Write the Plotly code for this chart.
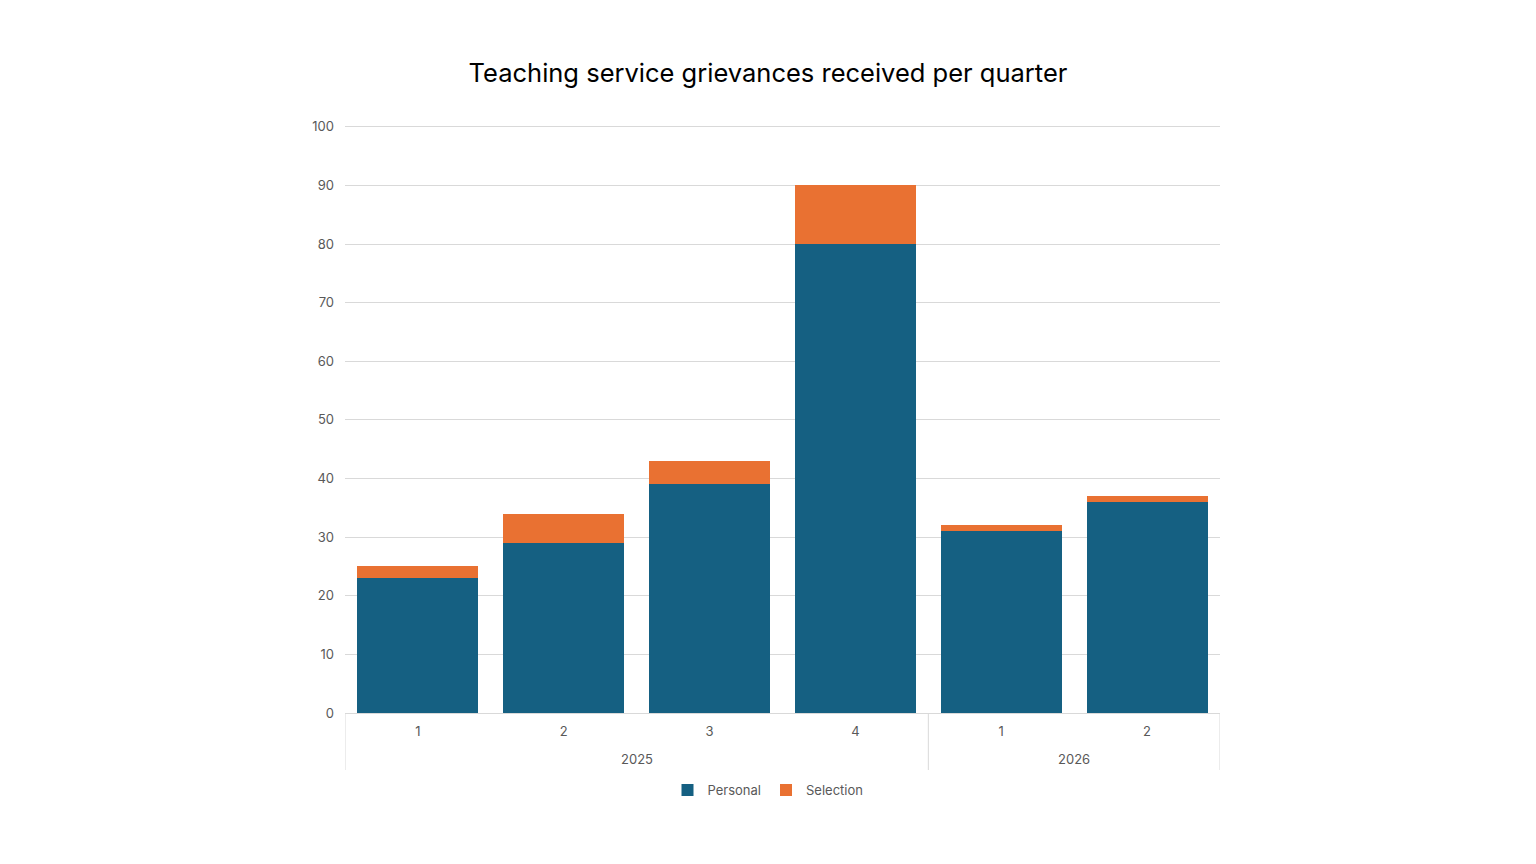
import plotly.graph_objects as go

years = ["2025", "2025", "2025", "2025", "2026", "2026"]
quarters = ["1", "2", "3", "4", "1", "2"]
personal = [23, 29, 39, 80, 31, 36]
selection = [2, 5, 4, 10, 1, 1]

FONT = "Inter, Open Sans, sans-serif"
GREY = "#595959"
LINE = "#D9D9D9"

pos = list(range(len(quarters)))

fig = go.Figure()
fig.add_trace(go.Bar(x=pos, y=personal, name="Personal",
                     marker=dict(color="#156082", line=dict(width=0))))
fig.add_trace(go.Bar(x=pos, y=selection, name="Selection",
                     marker=dict(color="#E97132", line=dict(width=0))))

# year group labels and dividers, placed in data coordinates
groups = []
for i, yr in enumerate(years):
    if not groups or groups[-1][0] != yr:
        groups.append([yr, i, i])
    else:
        groups[-1][2] = i

PLOT_H = 864 - 121 - 151
shapes = []
annotations = []
bounds = sorted({g[1] - 0.5 for g in groups} | {g[2] + 0.5 for g in groups})
for b in bounds:
    shapes.append(dict(type="line", xref="x", yref="paper", x0=b, x1=b,
                       y0=0, y1=-57 / PLOT_H, line=dict(color=LINE, width=1)))
for yr, a, b in groups:
    annotations.append(dict(text=yr, xref="x", yref="paper", x=(a + b) / 2,
                            y=-46 / PLOT_H, xanchor="center", yanchor="middle",
                            showarrow=False,
                            font=dict(family=FONT, size=13, color=GREY)))

fig.update_layout(
    barmode="stack",
    bargap=0.17,
    width=1536, height=864,
    margin=dict(l=345, r=316, t=121, b=151),
    paper_bgcolor="white", plot_bgcolor="white",
    font=dict(family=FONT, size=13, color=GREY),
    title=dict(text="Teaching service grievances received per quarter",
               x=0.5, xref="container", xanchor="center",
               y=1 - 73 / 864, yref="container", yanchor="middle",
               font=dict(family=FONT, size=25.5, color="#000000")),
    legend=dict(orientation="h", x=0.5, xref="container", xanchor="center",
                y=1 - 790 / 864, yref="container", yanchor="middle",
                font=dict(size=13, color=GREY), traceorder="normal",
                itemwidth=30),
    showlegend=True,
    shapes=shapes,
    annotations=annotations,
)
fig.update_xaxes(range=[-0.5, len(pos) - 0.5], tickvals=pos, ticktext=quarters,
                 showline=True, linecolor=LINE, linewidth=1, ticks="",
                 showgrid=False, zeroline=False, ticklabelstandoff=6,
                 tickfont=dict(size=13, color=GREY))
fig.update_yaxes(range=[0, 101], tickvals=list(range(0, 101, 10)),
                 showgrid=True, gridcolor=LINE, gridwidth=1, zeroline=False,
                 showline=False, tickfont=dict(size=13, color=GREY),
                 ticklabelstandoff=10)

fig.write_html("out.html")
